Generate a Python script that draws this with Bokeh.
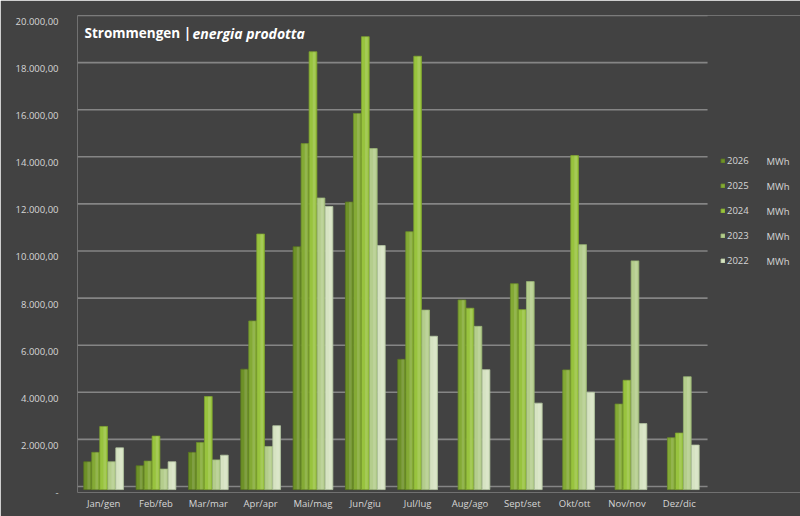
from bokeh.plotting import figure
from bokeh.models import (ColumnDataSource, Range1d, LinearAxis, FixedTicker,
                          Label, Legend, LegendItem)
from bokeh.transform import dodge
from bokeh.embed import file_html
from bokeh.resources import INLINE

months = ["Jan/gen", "Feb/feb", "Mar/mar", "Apr/apr", "Mai/mag", "Jun/giu",
          "Jul/lug", "Aug/ago", "Sept/set", "Okt/ott", "Nov/nov", "Dez/dic"]
years = ["2026", "2025", "2024", "2023", "2022"]
v2026 = [1050, 880, 1450, 4980, 10180, 12080, 5400, None, None, None, None, None]
v2025 = [1450, 1080, 1870, 7030, 14560, 15840, 10820, 7920, 8610, 4950, 3500, 2070]
v2024 = [2550, 2140, 3820, 10720, 18460, 19100, 18270, 7570, 7510, 14050, 4510, 2270]
v2023 = [1050, 740, 1130, 1700, 12250, 14350, 7490, 6800, 8700, 10270, 9580, 4660]
v2022 = [1640, 1050, 1330, 2580, 11890, 10230, 6380, 4960, 3540, 4000, 2670, 1760]
series = [v2026, v2025, v2024, v2023, v2022]
y_ticks = [0, 2000, 4000, 6000, 8000, 10000, 12000, 14000, 16000, 18000, 20000]
y_tick_labels = ["-", "2.000,00", "4.000,00", "6.000,00", "8.000,00", "10.000,00",
                 "12.000,00", "14.000,00", "16.000,00", "18.000,00", "20.000,00"]
title_main = "Strommengen |"
title_italic = "energia prodotta"
unit = "MWh"

colors = ["#6e9128", "#84aa35", "#98c33e", "#b4cd8c", "#d6e3c2"]
edge = ["#58751e", "#6b8d29", "#7ea22f", "#98b273", "#b3c4a0"]

BG = "#424242"
TXT = "#d6d6d6"
FONT = "Open Sans"

# frame: left 77, right 800, top 15, bottom 492 ; 52.33 px per month
p = figure(width=800, height=516, output_backend="svg", toolbar_location=None,
           x_range=Range1d(-0.5, 13.316), y_range=Range1d(-255, 20000),
           y_axis_location=None, min_border_left=77, min_border_right=0,
           min_border_top=15, min_border_bottom=24)
p.background_fill_color = BG
p.border_fill_color = BG
p.outline_line_color = None
p.xgrid.visible = False
p.ygrid.visible = False

# horizontal gridlines (stop before the legend area)
p.segment(x0=-0.5, x1=11.54, y0=y_ticks, y1=y_ticks, line_color="#858585", line_width=1.6)

# y axis labels (offset range mimicking the 3D floor perspective)
p.extra_y_ranges = {"lab": Range1d(-0.5, 20255)}
yax = LinearAxis(y_range_name="lab", ticker=FixedTicker(ticks=y_ticks),
                 major_label_overrides={t: l for t, l in zip(y_ticks, y_tick_labels)})
yax.axis_line_color = None
yax.major_tick_line_color = None
yax.minor_tick_line_color = None
yax.major_tick_out = 0
yax.major_label_standoff = 19
yax.major_label_text_color = TXT
yax.major_label_text_font = FONT
yax.major_label_text_font_size = "9.5px"
p.add_layout(yax, "left")

xax = p.xaxis[0]
xax.ticker = FixedTicker(ticks=list(range(len(months))))
xax.major_label_overrides = {i: m for i, m in enumerate(months)}
xax.axis_line_color = None
xax.major_tick_line_color = None
xax.minor_tick_line_color = None
xax.major_tick_out = 0
xax.major_label_standoff = 4
xax.major_label_text_color = TXT
xax.major_label_text_font = FONT
xax.major_label_text_font_size = "9.5px"

step = 0.153
items = []
for j, (yr, vals) in enumerate(zip(years, series)):
    xs = [i for i, v in enumerate(vals) if v is not None]
    ts = [v for v in vals if v is not None]
    src = ColumnDataSource(dict(x=xs, top=ts))
    off = (j - 2) * step
    r = p.vbar(x=dodge("x", off, range=p.x_range), top="top", bottom=-130, width=0.148,
               source=src, fill_color=colors[j], line_color=edge[j], line_width=0.8)
    p.vbar(x=dodge("x", off + 0.02, range=p.x_range), top="top", bottom=-130, width=0.05,
           source=src, fill_color="#ffffff", fill_alpha=0.13, line_color=None)
    items.append(LegendItem(label=yr, renderers=[r]))

legend = Legend(items=items, location=(643, 225), padding=0, margin=0,
                glyph_width=5, glyph_height=5, label_height=13, spacing=12,
                label_standoff=2, background_fill_alpha=0, border_line_color=None,
                label_text_color=TXT, label_text_font=FONT, label_text_font_size="9.5px")
p.add_layout(legend, "center")

for k in range(len(years)):
    p.add_layout(Label(x=689, y=225 + 113 - 6.5 - k * 25, x_units="screen", y_units="screen",
                       text=unit, text_color=TXT, text_font=FONT, text_font_size="9.5px",
                       text_baseline="middle"))

p.add_layout(Label(x=-0.366, y=19236, text=title_main, text_color="#ffffff",
                   text_font=FONT, text_font_style="bold", text_font_size="13.5px",
                   text_baseline="alphabetic"))
p.add_layout(Label(x=1.698, y=19236, text=title_italic, text_color="#ffffff",
                   text_font=FONT, text_font_style="bold italic", text_font_size="14px",
                   text_baseline="alphabetic"))

open("out.html", "w").write(file_html(p, INLINE))
